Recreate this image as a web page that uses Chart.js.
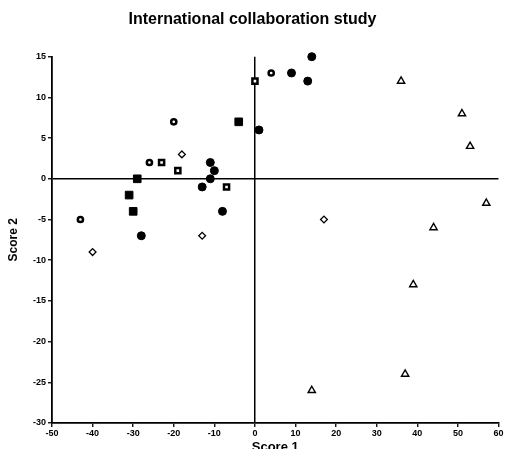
<!DOCTYPE html>
<html><head><meta charset="utf-8">
<script src="https://cdn.jsdelivr.net/npm/chart.js@4/dist/chart.umd.min.js"></script>
<style>html,body{margin:0;padding:0;background:#fff;}#wrap{width:505px;height:449px;}</style>
</head><body><div id="wrap"><canvas id="c" width="505" height="449"></canvas></div>
<script>
const titleText = 'International collaboration study';
const xAxisLabel = 'Score 1';
const yAxisLabel = 'Score 2';
const xTicks = [-50, -40, -30, -20, -10, 0, 10, 20, 30, 40, 50, 60];
const yTicks = [-30, -25, -20, -15, -10, -5, 0, 5, 10, 15];

const filledCircleX = [14, 9, 13, 1, -11, -10, -11, -13, -8, -28];
const filledCircleY = [15, 13, 12, 6, 2, 1, 0, -1, -4, -7];
const openCircleX = [4, -20, -26, -43];
const openCircleY = [13, 7, 2, -5];
const filledSquareX = [-4, -29, -31, -30];
const filledSquareY = [7, 0, -2, -4];
const openSquareX = [0, -23, -19, -7];
const openSquareY = [12, 2, 1, -1];
const diamondX = [-18, 17, -13, -40];
const diamondY = [3, -5, -7, -9];
const triangleX = [36, 51, 53, 57, 44, 39, 37, 14];
const triangleY = [12, 8, 4, -3, -6, -13, -24, -26];

function pts(xs, ys) { return xs.map((x, i) => ({x: x, y: ys[i]})); }

const FONT = "'Liberation Sans', Arial, sans-serif";

new Chart(document.getElementById('c'), {
  type: 'scatter',
  data: {
    datasets: [
      {data: pts(filledCircleX, filledCircleY), clip: false, pointStyle: 'circle', pointRadius: 4, backgroundColor: '#000', borderColor: '#000', borderWidth: 1},
      {data: pts(openCircleX, openCircleY), clip: false, pointStyle: 'circle', pointRadius: 2.6, backgroundColor: '#fff', borderColor: '#000', borderWidth: 2.5},
      {data: pts(filledSquareX, filledSquareY), clip: false, pointStyle: 'rect', pointRadius: 5.4, backgroundColor: '#000', borderColor: '#000', borderWidth: 1},
      {data: pts(openSquareX, openSquareY), clip: false, pointStyle: 'rect', pointRadius: 3.6, backgroundColor: '#fff', borderColor: '#000', borderWidth: 2.5},
      {data: pts(diamondX, diamondY), clip: false, pointStyle: 'rectRot', pointRadius: 3.4, backgroundColor: '#fff', borderColor: '#000', borderWidth: 1.3},
      {data: pts(triangleX, triangleY), clip: false, pointStyle: 'triangle', pointRadius: 4.2, backgroundColor: '#fff', borderColor: '#000', borderWidth: 1.4}
    ]
  },
  options: {
    responsive: false,
    animation: false,
    layout: {padding: {left: 0, right: 0, top: 0, bottom: 0}},
    plugins: {
      legend: {display: false},
      tooltip: {enabled: false},
      title: {
        display: true, text: titleText, color: '#000',
        font: {family: FONT, size: 16, weight: 'bold'},
        padding: {top: 9.5, bottom: 28}
      }
    },
    scales: {
      x: {
        type: 'linear', min: -50, max: 60,
        afterBuildTicks: s => { s.ticks = xTicks.map(v => ({value: v})); },
        afterFit: s => { s.height = 26; },
        ticks: {color: '#000', font: {family: FONT, size: 9, weight: 'bold'}, padding: 1, maxRotation: 0, autoSkip: false},
        grid: {
          color: c => (c.tick && c.tick.value === 0) ? '#000' : 'rgba(0,0,0,0)',
          lineWidth: 1.5, tickColor: '#000', tickWidth: 1.3, tickLength: 4, drawOnChartArea: true
        },
        border: {display: true, color: '#000', width: 1.8},
        title: {display: true, text: xAxisLabel, color: '#000', font: {family: FONT, size: 13, weight: 'bold'}, padding: {top: 0, bottom: -6}}
      },
      y: {
        type: 'linear', min: -30, max: 15,
        afterBuildTicks: s => { s.ticks = yTicks.map(v => ({value: v})); },
        afterFit: s => { s.width = 52; },
        ticks: {color: '#000', font: {family: FONT, size: 9, weight: 'bold'}, padding: 2, autoSkip: false},
        grid: {
          color: c => (c.tick && c.tick.value === 0) ? '#000' : 'rgba(0,0,0,0)',
          lineWidth: 1.5, tickColor: '#000', tickWidth: 1.3, tickLength: 4, drawOnChartArea: true
        },
        border: {display: true, color: '#000', width: 1.8},
        title: {display: true, text: yAxisLabel, color: '#000', font: {family: FONT, size: 12, weight: 'bold'}, padding: {top: 6.3, bottom: 0}}
      }
    }
  }
});
</script>
</body></html>
